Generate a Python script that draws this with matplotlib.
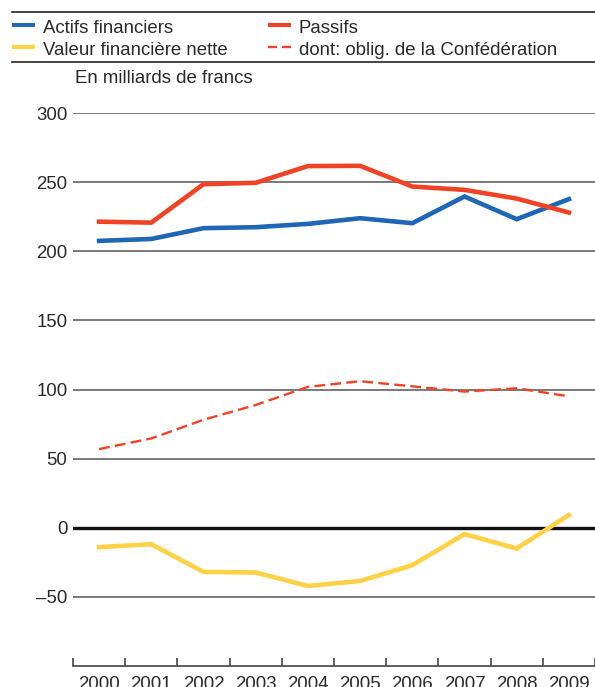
import matplotlib
matplotlib.use("Agg")
import matplotlib.pyplot as plt
from matplotlib.lines import Line2D
from matplotlib.ticker import FixedLocator, NullFormatter

plt.rcParams['font.family'] = ['Liberation Sans', 'DejaVu Sans']

years = [2000, 2001, 2002, 2003, 2004, 2005, 2006, 2007, 2008, 2009]
actifs = [207.5, 208.9, 216.7, 217.4, 219.8, 223.9, 220.3, 239.6, 223.2, 237.7]
passifs = [221.4, 220.7, 248.5, 249.5, 261.6, 261.8, 246.8, 244.4, 238.1, 228.0]
valeur_nette = [-14.0, -11.9, -31.9, -32.4, -42.1, -38.5, -27.1, -4.6, -15.0, 9.2]
oblig_conf = [56.9, 64.6, 78.1, 88.8, 101.9, 106.0, 102.3, 98.5, 100.9, 95.1]
ytick_vals = [-50, 0, 50, 100, 150, 200, 250, 300]
ytick_labels = ['–50', '0', '50', '100', '150', '200', '250', '300']

BLUE = '#1f66b5'
RED = '#f04224'
YELLOW = '#ffd147'
TXT = '#2a2a2a'
FS = 13.4

W, H = 595, 687
fig = plt.figure(figsize=(W / 100, H / 100), dpi=100)

def fx(px):
    return px / W

def fy(py):
    return 1 - py / H

ax_left, ax_right, ax_top, ax_bottom = 73, 595, 113, 666
ax = fig.add_axes([fx(ax_left), fy(ax_bottom), fx(ax_right - ax_left), (ax_bottom - ax_top) / H])
ax.set_xlim(years[0] - 0.5, years[-1] + 0.5)
ax.set_ylim(-100, 300)

for v in ytick_vals:
    if v == 0:
        ax.axhline(v, color='#111111', lw=2.4, zorder=1)
    else:
        ax.axhline(v, color='#555555', lw=1.1, zorder=1)

ax.plot(years, actifs, color=BLUE, lw=3.3, zorder=3, solid_joinstyle='miter')
ax.plot(years, passifs, color=RED, lw=3.3, zorder=3, solid_joinstyle='miter')
ax.plot(years, valeur_nette, color=YELLOW, lw=3.3, zorder=3, solid_joinstyle='miter', clip_on=False)
ax.plot(years, oblig_conf, color=RED, lw=1.7, ls=(0, (4.6, 2.2)), zorder=3)

for s in ['top', 'right', 'left']:
    ax.spines[s].set_visible(False)
ax.spines['bottom'].set_color('#444444')
ax.spines['bottom'].set_linewidth(1.2)

ax.set_yticks(ytick_vals)
ax.set_yticklabels(ytick_labels)
ax.tick_params(axis='y', length=0, pad=4, labelsize=FS, labelcolor=TXT)

ax.set_xticks(years)
ax.set_xticklabels([str(y) for y in years])
ax.tick_params(axis='x', which='major', length=0, pad=7, labelsize=FS, labelcolor=TXT)
ax.xaxis.set_minor_locator(FixedLocator([y - 0.5 for y in years] + [years[-1] + 0.5]))
ax.xaxis.set_minor_formatter(NullFormatter())
ax.tick_params(axis='x', which='minor', direction='in', length=6, width=1.2, color='#444444')

# header rules
for py in (11.7, 62):
    fig.add_artist(Line2D([fx(12), fx(595)], [fy(py), fy(py)], color='#111111', lw=1.1))

# legend
legend_items = [
    (12, 35, 24.7, 43.3, 32.7, 'Actifs financiers', BLUE, '-'),
    (12, 35, 47.3, 43.3, 55.0, 'Valeur financière nette', YELLOW, '-'),
    (268, 291, 24.7, 299, 32.7, 'Passifs', RED, '-'),
    (268, 291, 47.3, 299, 55.0, 'dont: oblig. de la Confédération', RED, '--'),
]
for x0, x1, ly, tx, ty, label, col, style in legend_items:
    if style == '-':
        fig.add_artist(Line2D([fx(x0), fx(x1)], [fy(ly), fy(ly)], color=col, lw=2.9, solid_capstyle='butt'))
    else:
        for a, b in ((x0, x0 + 9), (x1 - 9, x1)):
            fig.add_artist(Line2D([fx(a), fx(b)], [fy(ly), fy(ly)], color=col, lw=1.7, solid_capstyle='butt'))
    fig.text(fx(tx), fy(ty), label, fontsize=FS, color=TXT, va='baseline', ha='left')

fig.text(fx(75), fy(82.7), 'En milliards de francs', fontsize=FS, color=TXT, va='baseline', ha='left')

fig.savefig('out.png', dpi=100)
